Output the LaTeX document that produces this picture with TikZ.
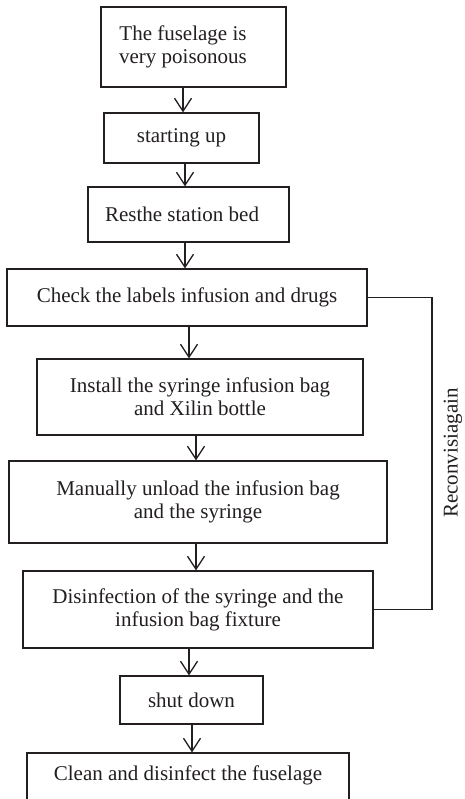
\documentclass[tikz,border=0pt]{standalone}
\usepackage{fontspec}
\setmainfont{Liberation Serif}
\usetikzlibrary{arrows.meta}
\definecolor{ink}{HTML}{231F20}
\begin{document}
\begin{tikzpicture}[x=1pt,y=-1pt,
  box/.style={draw=ink, line width=1.2pt, rectangle, inner sep=0pt, align=center,
    font=\fontsize{21}{23}\selectfont, text=ink},
  txt/.style={inner sep=0pt, align=center, font=\fontsize{21}{23}\selectfont, text=ink},
  arr/.style={draw=ink, line width=1.3pt, -{Straight Barb[length=13pt,width=17pt,line width=1.3pt]}},
  link/.style={draw=ink, line width=1.2pt}]
\clip (0,0) rectangle (464,799);
\fill[white] (0,0) rectangle (464,799);
% boxes
\node[box, minimum width=185pt, minimum height=80pt] (b1) at (193.5,47) {};
\node[txt] (t1) at (183,47) {The fuselage is\\very poisonous};
\node[box, minimum width=155pt, minimum height=50pt] (b2) at (181.5,138) {starting up};
\node[box, minimum width=201pt, minimum height=55pt] (b3) at (188.5,214.5) {};
\node[txt] (t3) at (182,214.5) {Resthe station bed};
\node[box, minimum width=360pt, minimum height=57pt] (b4) at (187,297.5) {Check the labels infusion and drugs};
\node[box, minimum width=326pt, minimum height=76pt] (b5) at (200,397) {Install the syringe infusion bag\\and Xilin bottle};
\node[box, minimum width=378pt, minimum height=82pt] (b6) at (198,502) {Manually unload the infusion bag\\and the syringe};
\node[box, minimum width=350pt, minimum height=77pt] (b7) at (198,609.5) {Disinfection of the syringe and the\\infusion bag fixture};
\node[box, minimum width=143pt, minimum height=48pt] (b8) at (191.5,700) {shut down};
\node[box, minimum width=322pt, minimum height=52pt] (b9) at (188,779) {};
\node[txt] (t9) at (188,775) {Clean and disinfect the fuselage};
% arrow columns
\coordinate (x1) at (183,0);
\coordinate (x2) at (185,0);
\coordinate (x3) at (185,0);
\coordinate (x4) at (189,0);
\coordinate (x5) at (196,0);
\coordinate (x6) at (196,0);
\coordinate (x7) at (189,0);
\coordinate (x8) at (192,0);
\draw[arr] (b1.south -| x1) -- (b2.north -| x1);
\draw[arr] (b2.south -| x2) -- (b3.north -| x2);
\draw[arr] (b3.south -| x3) -- (b4.north -| x3);
\draw[arr] (b4.south -| x4) -- (b5.north -| x4);
\draw[arr] (b5.south -| x5) -- (b6.north -| x5);
\draw[arr] (b6.south -| x6) -- (b7.north -| x6);
\draw[arr] (b7.south -| x7) -- (b8.north -| x7);
\draw[arr] (b8.south -| x8) -- (b9.north -| x8);
% feedback loop
\coordinate (fx) at (432,0);
\draw[link] (b4.east) -- (b4.east -| fx) -- (b7.east -| fx) -- (b7.east);
\node[txt, rotate=90] (lab) at (453,453) {Reconvisiagain};
\end{tikzpicture}
\end{document}
